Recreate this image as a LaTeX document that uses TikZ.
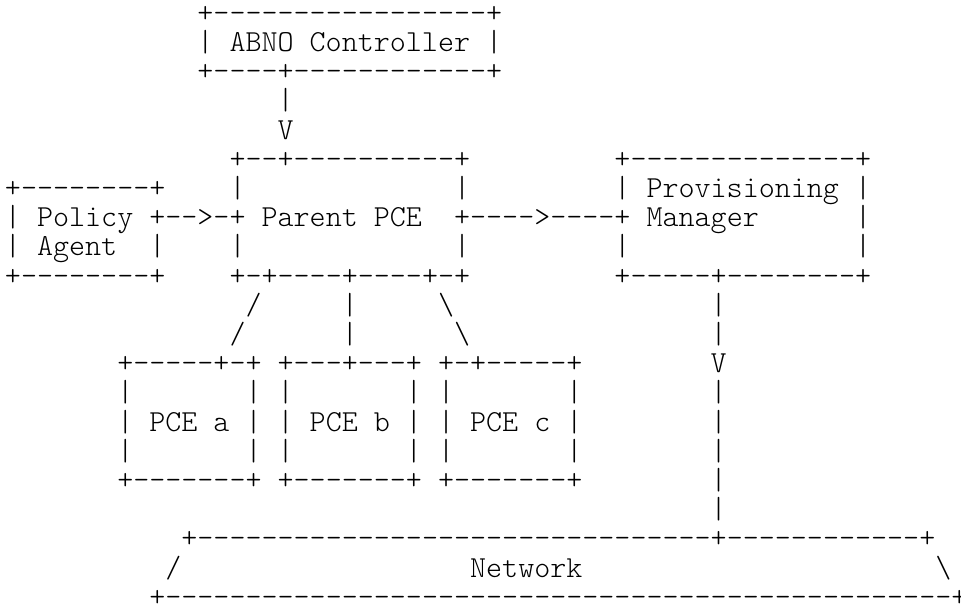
\documentclass[tikz,border=0pt]{standalone}
\usepackage{fontspec}
\newfontfamily\ascfont{lmmonolt10-regular.otf}
\newlength\ascchw
\newlength\asccw
\setlength\asccw{16.04pt}
\newcommand\asblank[1]{\hspace*{#1\asccw}}
\ExplSyntaxOn
\cs_new:Npn \asdash #1 {\prg_replicate:nn {#1} {-}}
\ExplSyntaxOff
\begin{document}
\settowidth\ascchw{\ascfont\fontsize{20pt}{20pt}\selectfont +}
\pgfmathsetlengthmacro\ascsize{20*16.04/\ascchw}
\begin{tikzpicture}[x=1pt,y=-1pt,
  asciirow/.style={anchor=base west,inner sep=0pt,outer sep=0pt,
    font=\ascfont\fontsize{\ascsize}{\ascsize}\selectfont,
    text height=20pt,text depth=6pt,text=black}]
\fill[white] (0,0) rectangle (961,608);
\useasboundingbox (0,0) rectangle (961,608);
\def\xl{4.98}
\node[asciirow] (row1)  at (\xl,22.3)  {\asblank{12}+\asdash{17}+};
\node[asciirow] (row2)  at (\xl,51.5)  {\asblank{12}|~ABNO~Controller~|};
\node[asciirow] (row3)  at (\xl,80.7)  {\asblank{12}+\asdash{4}+\asdash{12}+};
\node[asciirow] (row4)  at (\xl,109.9) {\asblank{17}|};
\node[asciirow] (row5)  at (\xl,139.1) {\asblank{17}V};
\node[asciirow] (row6)  at (\xl,168.3) {\asblank{14}+\asdash{2}+\asdash{10}+\asblank{9}+\asdash{14}+};
\node[asciirow] (row7)  at (\xl,197.5) {+\asdash{8}+\asblank{4}|\asblank{13}|\asblank{9}|~Provisioning~|};
\node[asciirow] (row8)  at (\xl,226.7) {|~Policy~+\asdash{2}>\asdash{1}+~Parent~PCE~~+\asdash{4}>\asdash{4}+~Manager\asblank{6}|};
\node[asciirow] (row9)  at (\xl,255.9) {|~Agent~~|\asblank{4}|\asblank{13}|\asblank{9}|\asblank{14}|};
\node[asciirow] (row10) at (\xl,285.1) {+\asdash{8}+\asblank{4}+\asdash{1}+\asdash{4}+\asdash{4}+\asdash{1}+\asblank{9}+\asdash{5}+\asdash{8}+};
\node[asciirow] (row11) at (\xl,314.3) {\asblank{15}/\asblank{5}|\asblank{5}\textbackslash\asblank{16}|};
\node[asciirow] (row12) at (\xl,343.5) {\asblank{14}/\asblank{6}|\asblank{6}\textbackslash\asblank{15}|};
\node[asciirow] (row13) at (\xl,372.7) {\asblank{7}+\asdash{5}+\asdash{1}+~+\asdash{3}+\asdash{3}+~+\asdash{1}+\asdash{5}+\asblank{8}V};
\node[asciirow] (row14) at (\xl,401.9) {\asblank{7}|\asblank{7}|~|\asblank{7}|~|\asblank{7}|\asblank{8}|};
\node[asciirow] (row15) at (\xl,431.1) {\asblank{7}|~PCE~a~|~|~PCE~b~|~|~PCE~c~|\asblank{8}|};
\node[asciirow] (row16) at (\xl,460.3) {\asblank{7}|\asblank{7}|~|\asblank{7}|~|\asblank{7}|\asblank{8}|};
\node[asciirow] (row17) at (\xl,489.5) {\asblank{7}+\asdash{7}+~+\asdash{7}+~+\asdash{7}+\asblank{8}|};
\node[asciirow] (row18) at (\xl,518.7) {\asblank{44}|};
\node[asciirow] (row19) at (\xl,547.9) {\asblank{11}+\asdash{32}+\asdash{12}+};
\node[asciirow] (row20) at (\xl,577.1) {\asblank{10}/\asblank{18}Network\asblank{22}\textbackslash};
\node[asciirow] (row21) at (\xl,606.3) {\asblank{9}+\asdash{49}+};
\end{tikzpicture}
\end{document}
